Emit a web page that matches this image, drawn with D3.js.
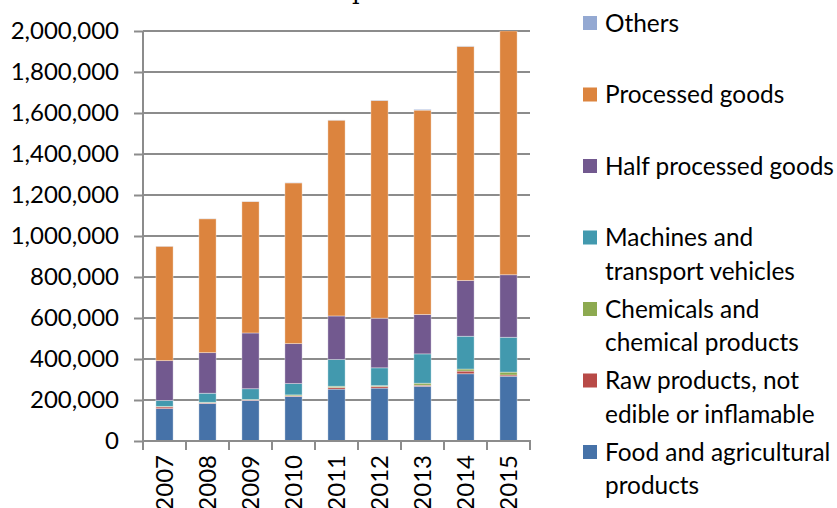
<!DOCTYPE html>
<html>
<head>
<meta charset="utf-8">
<script src="https://cdn.jsdelivr.net/npm/d3@7"></script>
<style>
  html, body { margin: 0; padding: 0; background: #fff; }
  svg { display: block; }
</style>
</head>
<body>
<script>
// values
const years = ["2007", "2008", "2009", "2010", "2011", "2012", "2013", "2014", "2015"]
const food = [158000, 183000, 198000, 217000, 253000, 258000, 267000, 328000, 316000]
const raw = [8000, 3000, 2000, 3000, 8000, 8000, 5000, 13000, 6000]
const chemicals = [3000, 3000, 3000, 5000, 6000, 4000, 10000, 10000, 14000]
const machines = [29000, 44000, 52000, 55000, 131000, 87000, 143000, 160000, 170000]
const halfProcessed = [194000, 198000, 272000, 195000, 212000, 242000, 192000, 272000, 305000]
const processed = [558000, 653000, 641000, 784000, 955000, 1062000, 997000, 1142000, 1190000]
const others = [1000, 1000, 1000, 1000, 1000, 2000, 4000, 2000, 2000]
const yTicks = [0, 200000, 400000, 600000, 800000, 1000000, 1200000, 1400000, 1600000, 1800000, 2000000]

// bottom to top
const series = [
  {key: "food", lines: ["Food and agricultural", "products"], color: "#4672A8", values: food},
  {key: "raw", lines: ["Raw products, not", "edible or inflamable"], color: "#B84A47", values: raw},
  {key: "chem", lines: ["Chemicals and", "chemical products"], color: "#8DAA50", values: chemicals},
  {key: "mach", lines: ["Machines and", "transport vehicles"], color: "#4299AE", values: machines},
  {key: "half", lines: ["Half processed goods"], color: "#72598F", values: halfProcessed},
  {key: "proc", lines: ["Processed goods"], color: "#DC843E", values: processed},
  {key: "other", lines: ["Others"], color: "#94A9D2", values: others}
]

const W = 837, H = 508
const font = "Lato, 'Open Sans', sans-serif"
const fsize = 24
const grey = "#8c8c8c"

const rows = years.map((y, i) => {
  let r = {year: y}
  series.forEach(s => r[s.key] = s.values[i])
  return r
})
const stacked = d3.stack().keys(series.map(s => s.key))(rows)

const x = d3.scaleBand().domain(years).range([143, 530]).paddingInner(0.6).paddingOuter(0.3)
const y = d3.scaleLinear().domain([0, 2000000]).range([441, 31])

const svg = d3.select("body").append("svg").attr("width", W).attr("height", H)

svg.append("defs").append("clipPath").attr("id", "plot")
  .append("rect").attr("x", 143).attr("y", 31).attr("width", 387).attr("height", 410)

// title sits mostly above the visible area
svg.append("text")
  .attr("x", 321).attr("y", -1)
  .attr("font-family", "'DejaVu Serif', 'Liberation Serif', serif")
  .attr("font-size", 24)
  .attr("fill", "#000")
  .text("Export")

// gridlines
svg.append("g")
  .selectAll("line")
  .data(yTicks.slice(1))
  .join("line")
    .attr("x1", 143).attr("x2", 530)
    .attr("y1", d => y(d)).attr("y2", d => y(d))
    .attr("stroke", grey).attr("stroke-width", 2)

// bars
svg.append("g")
  .attr("clip-path", "url(#plot)")
  .selectAll("g")
  .data(stacked)
  .join("g")
    .attr("fill", (d, i) => series[i].color)
  .selectAll("rect")
  .data(d => d)
  .join("rect")
    .attr("x", d => x(d.data.year))
    .attr("width", x.bandwidth())
    .attr("y", d => y(d[1]))
    .attr("height", d => Math.max(0, y(d[0]) - y(d[1])))
    .attr("stroke", "rgba(255,255,255,0.45)")
    .attr("stroke-width", 0.8)

// y axis
const yAxis = svg.append("g")
  .attr("transform", "translate(143,0)")
  .call(d3.axisLeft(y).tickValues(yTicks).tickSize(9).tickPadding(15).tickFormat(d3.format(",")))
yAxis.select(".domain").attr("stroke", grey).attr("stroke-width", 2).attr("d", "M0,31V441")
yAxis.selectAll(".tick line").attr("stroke", grey).attr("stroke-width", 2)
yAxis.selectAll("text").attr("font-family", font).attr("font-size", fsize).attr("fill", "#000")

// x axis, ticks between categories
svg.append("line")
  .attr("x1", 142).attr("x2", 531).attr("y1", 441).attr("y2", 441)
  .attr("stroke", grey).attr("stroke-width", 2)
svg.append("g")
  .selectAll("line")
  .data(years.map((d, i) => 143 + i * x.step()).concat([530]))
  .join("line")
    .attr("x1", d => d).attr("x2", d => d)
    .attr("y1", 441).attr("y2", 450)
    .attr("stroke", grey).attr("stroke-width", 2)

svg.append("g")
  .selectAll("text")
  .data(years)
  .join("text")
    .attr("transform", d => `translate(${x(d) + x.bandwidth() / 2},455) rotate(-90)`)
    .attr("text-anchor", "end")
    .attr("dy", "0.35em")
    .attr("font-family", font).attr("font-size", fsize).attr("fill", "#000")
    .text(d => d)

// legend, top entry = top of the stack
const legend = svg.append("g")
  .selectAll("g")
  .data(series.slice().reverse())
  .join("g")
    .attr("transform", (d, i) => `translate(583,${23 + i * 71.5})`)
legend.append("rect")
  .attr("x", 0).attr("y", -7).attr("width", 14).attr("height", 14)
  .attr("fill", d => d.color)
legend.append("text")
  .attr("font-family", font).attr("font-size", 24.4).attr("fill", "#000")
  .selectAll("tspan")
  .data(d => d.lines)
  .join("tspan")
    .attr("x", 22)
    .attr("y", (d, i) => i * 33.5)
    .attr("dy", "0.35em")
    .text(d => d)
</script>
</body>
</html>
